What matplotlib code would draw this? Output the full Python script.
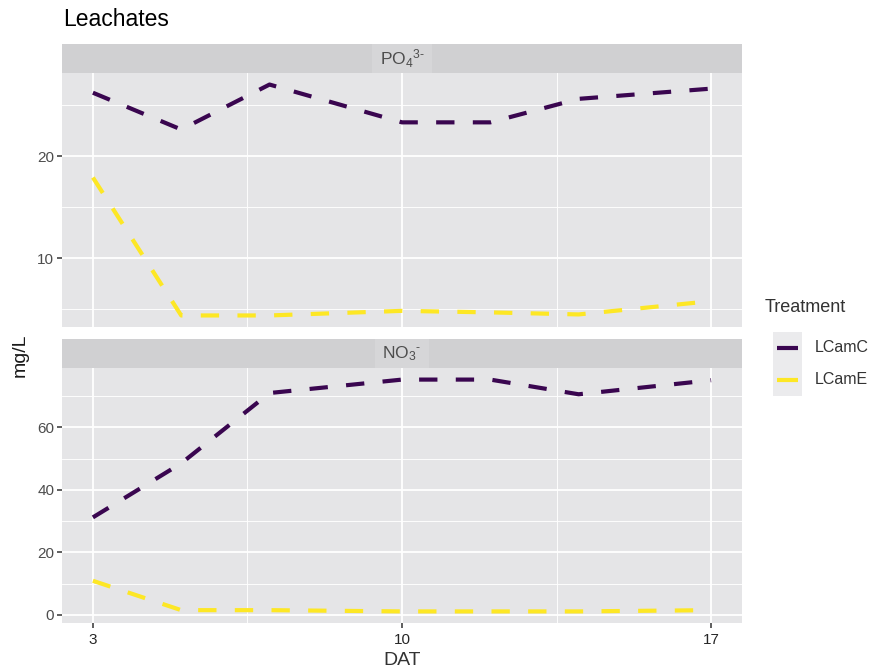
import matplotlib
matplotlib.use("Agg")
import matplotlib.pyplot as plt
from matplotlib.ticker import FixedLocator

plt.rcParams['font.family'] = ['Liberation Sans', 'DejaVu Sans']
plt.rcParams['mathtext.fontset'] = 'custom'
plt.rcParams['mathtext.rm'] = 'Liberation Sans'
plt.rcParams['mathtext.it'] = 'Liberation Sans'

# Days after treatment
dat = [3, 5, 7, 10, 12, 14, 17]

# Phosphate (mg/L)
po4_lcamc = [26.2, 22.6, 27.0, 23.3, 23.3, 25.6, 26.6]
po4_lcame = [17.9, 4.4, 4.4, 4.85, 4.7, 4.5, 5.8]

# Nitrate (mg/L)
no3_lcamc = [31.2, 48.5, 71.0, 75.3, 75.3, 70.6, 75.1]
no3_lcame = [10.9, 1.5, 1.5, 1.1, 1.1, 1.1, 1.5]

treatments = ["LCamC", "LCamE"]
colors = {"LCamC": "#3A0650", "LCamE": "#FDE725"}

facets = [
    ("PO$_4$$^{3\u2010}$", {"LCamC": po4_lcamc, "LCamE": po4_lcame},
     [10, 20], [5, 15, 25]),
    ("NO$_3$$^{\u2010}$", {"LCamC": no3_lcamc, "LCamE": no3_lcame},
     [0, 20, 40, 60], [10, 30, 50, 70]),
]

W, H = 872, 670
fig = plt.figure(figsize=(W / 100, H / 100), dpi=100)

panel_bg = "#E5E5E7"
strip_bg = "#D0D0D2"
left, right = 62 / W, 742 / W
panels = [(73, 327, 44), (368, 623, 339)]

x_min, x_max = 2.3, 17.7
lw = 3.0
dash = (4.4, 4.4)

axes = []
for (label, series, majors, minors), (ptop, pbot, stop) in zip(facets, panels):
    ax = fig.add_axes([left, 1 - pbot / H, right - left, (pbot - ptop) / H])
    ax.set_facecolor(panel_bg)
    for s in ax.spines.values():
        s.set_visible(False)

    allv = [v for t in treatments for v in series[t]]
    lo, hi = min(allv), max(allv)
    pad = (hi - lo) * 0.05
    ax.set_ylim(lo - pad, hi + pad)
    ax.set_xlim(x_min, x_max)

    ax.yaxis.set_major_locator(FixedLocator(majors))
    ax.yaxis.set_minor_locator(FixedLocator(minors))
    ax.xaxis.set_major_locator(FixedLocator([3, 10, 17]))
    ax.xaxis.set_minor_locator(FixedLocator([6.5, 13.5]))
    ax.grid(which="major", color="white", linewidth=1.3)
    ax.grid(which="minor", color="white", linewidth=0.65)
    ax.set_axisbelow(True)
    ax.tick_params(axis="both", which="major", length=3.5, width=1.1,
                   color="#333333", labelsize=11, labelcolor="#4D4D4D", pad=2)
    ax.tick_params(axis="both", which="minor", length=0)

    for t in treatments:
        ax.plot(dat, series[t], color=colors[t], linewidth=lw,
                linestyle=(0, dash), label=t)

    # facet strip
    sax = fig.add_axes([left, 1 - ptop / H, right - left, (ptop - stop) / H])
    sax.set_facecolor(strip_bg)
    sax.set_xticks([])
    sax.set_yticks([])
    for s in sax.spines.values():
        s.set_visible(False)
    sax.text(0.5, 0.5, label, transform=sax.transAxes, ha="center",
             va="center", fontsize=12.5, color="#4D4D4D", clip_on=True,
             bbox=dict(boxstyle="square,pad=0.45", fc="#D6D6D8", ec="none"))
    axes.append(ax)

axes[0].tick_params(axis="x", which="major", labelbottom=False, length=0)
axes[1].tick_params(axis="x", which="major", labelcolor="#262626", pad=4)
axes[1].set_xlabel("DAT", fontsize=14, color="#333333", labelpad=3)

fig.text(20 / W, 1 - 355 / H, "mg/L", rotation=90, ha="center",
         va="center", fontsize=14, color="#1A1A1A")
fig.text(63 / W, 1 - 20 / H, "Leachates", ha="left", va="center",
         fontsize=16.5, color="#000000")

# legend
fig.text(765 / W, 1 - 308 / H, "Treatment", ha="left", va="center",
         fontsize=13, color="#333333")
lax = fig.add_axes([773 / W, 1 - 396 / H, 29 / W, 64 / H])
lax.set_facecolor("#EBEBED")
lax.set_xlim(0, 1)
lax.set_ylim(0, 2)
lax.set_xticks([])
lax.set_yticks([])
for s in lax.spines.values():
    s.set_visible(False)
for i, t in enumerate(treatments):
    y = 1.5 - i
    lax.plot([0.15, 0.85], [y, y], color=colors[t], linewidth=lw,
             solid_capstyle="butt")
    fig.text(815 / W, 1 - (347 + 33 * i) / H, t, ha="left", va="center",
             fontsize=11.5, color="#333333")

fig.savefig("out.png", dpi=100, facecolor="white")
